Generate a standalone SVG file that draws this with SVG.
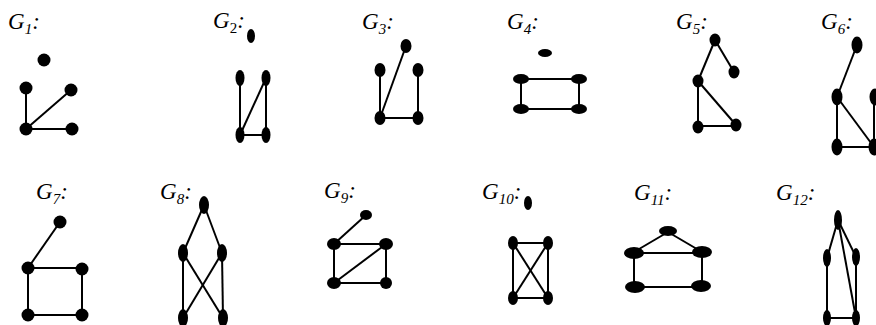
<svg xmlns="http://www.w3.org/2000/svg" width="876" height="325" viewBox="0 0 876 325">
<style>
.lbl{font-family:"Liberation Serif","Times New Roman",serif;font-style:italic;font-size:23px;fill:#000}
.sub{font-size:15px}
.e{stroke:#000;stroke-width:2;fill:none}
ellipse{fill:#000}
</style>
<rect width="876" height="325" fill="#fff"/>
<g id="connectors" class="e">
<!-- G1 -->
<line x1="26" y1="88" x2="26" y2="129"/>
<line x1="26" y1="129" x2="71" y2="90"/>
<line x1="26" y1="129" x2="72" y2="129"/>
<!-- G2 -->
<line x1="240" y1="78" x2="240" y2="135"/>
<line x1="266" y1="78" x2="266" y2="135"/>
<line x1="266" y1="78" x2="240" y2="135"/>
<line x1="240" y1="135" x2="266" y2="135"/>
<!-- G3 -->
<line x1="380" y1="70" x2="380" y2="118"/>
<line x1="406" y1="46" x2="380" y2="118"/>
<line x1="418" y1="70" x2="418" y2="118"/>
<line x1="380" y1="118" x2="418" y2="118"/>
<!-- G4 -->
<rect x="521" y="79" width="58" height="30"/>
<!-- G5 -->
<line x1="715" y1="40" x2="734" y2="72"/>
<line x1="715" y1="40" x2="698" y2="81"/>
<line x1="698" y1="81" x2="698" y2="127"/>
<line x1="698" y1="81" x2="736" y2="125"/>
<line x1="698" y1="126" x2="736" y2="126"/>
<!-- G6 -->
<line x1="857" y1="45" x2="837" y2="97"/>
<line x1="837" y1="97" x2="837" y2="147"/>
<line x1="837" y1="97" x2="874" y2="147"/>
<line x1="837" y1="147" x2="874" y2="147"/>
<line x1="874" y1="97" x2="874" y2="147"/>
<!-- G7 -->
<line x1="60" y1="222" x2="28" y2="268"/>
<rect x="28" y="268" width="54" height="47"/>
<!-- G8 -->
<line x1="204" y1="205" x2="183" y2="253"/>
<line x1="204" y1="205" x2="222" y2="253"/>
<line x1="183" y1="253" x2="183" y2="318"/>
<line x1="222" y1="253" x2="223" y2="318"/>
<line x1="183" y1="253" x2="223" y2="318"/>
<line x1="222" y1="253" x2="183" y2="318"/>
<!-- G9 -->
<line x1="366" y1="215" x2="334" y2="244"/>
<rect x="334" y="244" width="52" height="39"/>
<line x1="386" y1="244" x2="334" y2="283"/>
<!-- G10 -->
<rect x="513" y="243" width="35" height="55"/>
<line x1="513" y1="243" x2="548" y2="298"/>
<line x1="548" y1="243" x2="513" y2="298"/>
<!-- G11 -->
<line x1="668" y1="232" x2="634" y2="252"/>
<line x1="668" y1="232" x2="702" y2="252"/>
<line x1="634" y1="253" x2="702" y2="253"/>
<line x1="634" y1="253" x2="634" y2="287"/>
<line x1="702" y1="252" x2="702" y2="286"/>
<line x1="635" y1="287" x2="701" y2="287"/>
<!-- G12 -->
<line x1="838" y1="220" x2="827" y2="258"/>
<line x1="838" y1="220" x2="856" y2="257"/>
<line x1="838" y1="220" x2="856" y2="318"/>
<line x1="827" y1="258" x2="827" y2="318"/>
<line x1="856" y1="257" x2="856" y2="318"/>
<line x1="827" y1="318" x2="856" y2="318"/>
</g>
<g id="G1">
<text class="lbl" x="8" y="29">G<tspan class="sub" dy="5">1</tspan><tspan dy="-5">:</tspan></text>
<ellipse id="g1n1" cx="44" cy="60" rx="6.5" ry="6.5"/>
<ellipse id="g1n2" cx="26" cy="88" rx="6.5" ry="6.5"/>
<ellipse id="g1n3" cx="71" cy="90" rx="6.5" ry="6.5"/>
<ellipse id="g1n4" cx="26" cy="129" rx="6.5" ry="6.5"/>
<ellipse id="g1n5" cx="72" cy="129" rx="6.5" ry="6.5"/>
</g>
<g id="G2">
<text class="lbl" x="213" y="28">G<tspan class="sub" dy="5" font-style="normal">2</tspan><tspan dy="-5">:</tspan></text>
<ellipse id="g2n1" cx="251" cy="36" rx="4" ry="7"/>
<ellipse id="g2n2" cx="240" cy="78" rx="4.5" ry="8"/>
<ellipse id="g2n3" cx="266" cy="78" rx="4.5" ry="8"/>
<ellipse id="g2n4" cx="240" cy="135" rx="4.5" ry="8"/>
<ellipse id="g2n5" cx="266" cy="135" rx="4.5" ry="8"/>
</g>
<g id="G3">
<text class="lbl" x="362" y="29">G<tspan class="sub" dy="5">3</tspan><tspan dy="-5">:</tspan></text>
<ellipse id="g3n1" cx="406" cy="46" rx="5.5" ry="7"/>
<ellipse id="g3n2" cx="380" cy="70" rx="5.5" ry="7"/>
<ellipse id="g3n3" cx="418" cy="70" rx="5.5" ry="7"/>
<ellipse id="g3n4" cx="380" cy="118" rx="5.5" ry="7"/>
<ellipse id="g3n5" cx="418" cy="118" rx="5.5" ry="7"/>
</g>
<g id="G4">
<text class="lbl" x="507" y="29">G<tspan class="sub" dy="5">4</tspan><tspan dy="-5">:</tspan></text>
<ellipse id="g4n1" cx="545" cy="53" rx="7" ry="4"/>
<ellipse id="g4n2" cx="521" cy="79" rx="8" ry="5"/>
<ellipse id="g4n3" cx="579" cy="79" rx="8" ry="5"/>
<ellipse id="g4n4" cx="521" cy="109" rx="8" ry="5"/>
<ellipse id="g4n5" cx="579" cy="109" rx="8" ry="5"/>
</g>
<g id="G5">
<text class="lbl" x="676" y="29">G<tspan class="sub" dy="5">5</tspan><tspan dy="-5">:</tspan></text>
<ellipse id="g5n1" cx="715" cy="40" rx="5.5" ry="6.5"/>
<ellipse id="g5n2" cx="734" cy="72" rx="5.5" ry="6.5"/>
<ellipse id="g5n3" cx="698" cy="81" rx="5.5" ry="6.5"/>
<ellipse id="g5n4" cx="698" cy="127" rx="5.5" ry="6.5"/>
<ellipse id="g5n5" cx="736" cy="125" rx="5.5" ry="6.5"/>
</g>
<g id="G6">
<text class="lbl" x="821" y="29">G<tspan class="sub" dy="5">6</tspan><tspan dy="-5">:</tspan></text>
<ellipse id="g6n1" cx="857" cy="45" rx="5.5" ry="8.5"/>
<ellipse id="g6n2" cx="837" cy="97" rx="5.5" ry="8.5"/>
<ellipse id="g6n3" cx="875" cy="97" rx="5.5" ry="8.5"/>
<ellipse id="g6n4" cx="837" cy="147" rx="5.5" ry="8.5"/>
<ellipse id="g6n5" cx="874" cy="147" rx="5.5" ry="8.5"/>
</g>
<g id="G7">
<text class="lbl" x="36" y="199">G<tspan class="sub" dy="5">7</tspan><tspan dy="-5">:</tspan></text>
<ellipse id="g7n1" cx="60" cy="222" rx="6.5" ry="6.5"/>
<ellipse id="g7n2" cx="28" cy="268" rx="6.5" ry="6.5"/>
<ellipse id="g7n3" cx="82" cy="269" rx="6.5" ry="6.5"/>
<ellipse id="g7n4" cx="28" cy="315" rx="6.5" ry="6.5"/>
<ellipse id="g7n5" cx="82" cy="315" rx="6.5" ry="6.5"/>
</g>
<g id="G8">
<text class="lbl" x="160" y="199">G<tspan class="sub" dy="5">8</tspan><tspan dy="-5">:</tspan></text>
<ellipse id="g8n1" cx="204" cy="205" rx="5" ry="9"/>
<ellipse id="g8n2" cx="183" cy="253" rx="5" ry="9"/>
<ellipse id="g8n3" cx="222" cy="253" rx="5" ry="9"/>
<ellipse id="g8n4" cx="183" cy="318" rx="5" ry="9"/>
<ellipse id="g8n5" cx="223" cy="318" rx="5" ry="9"/>
</g>
<g id="G9">
<text class="lbl" x="324" y="198">G<tspan class="sub" dy="5">9</tspan><tspan dy="-5">:</tspan></text>
<ellipse id="g9n1" cx="366" cy="215" rx="6" ry="5"/>
<ellipse id="g9n2" cx="334" cy="244" rx="7" ry="6"/>
<ellipse id="g9n3" cx="386" cy="244" rx="7" ry="6"/>
<ellipse id="g9n4" cx="334" cy="283" rx="7" ry="6"/>
<ellipse id="g9n5" cx="386" cy="283" rx="6" ry="6"/>
</g>
<g id="G10">
<text class="lbl" x="482" y="199">G<tspan class="sub" dy="5">10</tspan><tspan dy="-5">:</tspan></text>
<ellipse id="g10n1" cx="528" cy="203" rx="4" ry="7"/>
<ellipse id="g10n2" cx="513" cy="243" rx="5" ry="7"/>
<ellipse id="g10n3" cx="548" cy="243" rx="5" ry="7"/>
<ellipse id="g10n4" cx="513" cy="298" rx="5" ry="7"/>
<ellipse id="g10n5" cx="548" cy="298" rx="5" ry="7"/>
</g>
<g id="G11">
<text class="lbl" x="634" y="200">G<tspan class="sub" dy="5">11</tspan><tspan dy="-5">:</tspan></text>
<ellipse id="g11n1" cx="668" cy="231" rx="9" ry="5"/>
<ellipse id="g11n2" cx="634" cy="253" rx="10" ry="6"/>
<ellipse id="g11n3" cx="702" cy="252" rx="10" ry="6"/>
<ellipse id="g11n4" cx="635" cy="287" rx="10" ry="6"/>
<ellipse id="g11n5" cx="701" cy="286" rx="10" ry="6"/>
</g>
<g id="G12">
<text class="lbl" x="776" y="200">G<tspan class="sub" dy="5">12</tspan><tspan dy="-5">:</tspan></text>
<ellipse id="g12n1" cx="838" cy="220" rx="4" ry="10"/>
<ellipse id="g12n2" cx="827" cy="258" rx="4" ry="9"/>
<ellipse id="g12n3" cx="856" cy="257" rx="4" ry="9"/>
<ellipse id="g12n4" cx="827" cy="318" rx="4" ry="8"/>
<ellipse id="g12n5" cx="856" cy="318" rx="4" ry="8"/>
</g>
</svg>
